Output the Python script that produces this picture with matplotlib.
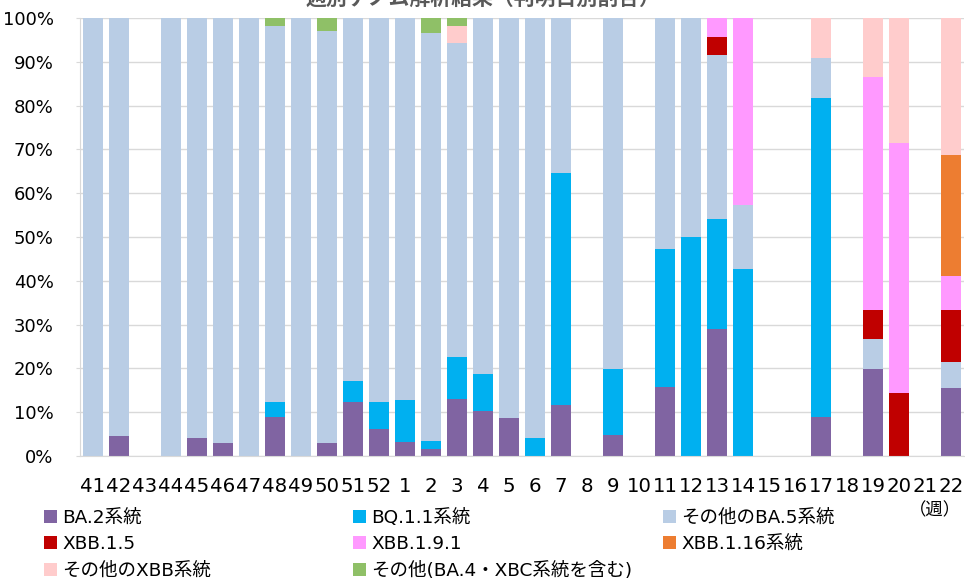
import matplotlib.pyplot as plt
import numpy as np

plt.rcParams['font.family'] = ['DejaVu Sans', 'Noto Sans CJK JP']

# 週
weeks = ['41', '42', '43', '44', '45', '46', '47', '48', '49', '50', '51', '52',
         '1', '2', '3', '4', '5', '6', '7', '8', '9', '10', '11', '12', '13',
         '14', '15', '16', '17', '18', '19', '20', '21', '22']

# 割合(%) 読み取り値, 空欄の週は0
ba2 = [0, 4.5, 0, 0, 4.1, 2.9, 0, 8.8, 0, 2.9, 12.3, 6.1,
       3.1, 1.7, 13.1, 10.3, 8.6, 0, 11.6, 0, 4.9, 0, 15.7, 0, 29.1,
       0, 0, 0, 9.0, 0, 19.9, 0, 0, 15.5]
bq11 = [0, 0, 0, 0, 0, 0, 0, 3.5, 0, 0, 4.8, 6.2,
        9.6, 1.7, 9.4, 8.4, 0, 4.0, 52.9, 0, 15.0, 0, 31.6, 50.0, 24.9,
        42.7, 0, 0, 72.7, 0, 0, 0, 0, 0]
ba5 = [100, 95.5, 0, 100, 95.9, 97.1, 100, 85.9, 100, 94.1, 82.9, 87.7,
       87.3, 93.2, 71.8, 81.3, 91.4, 96.0, 35.5, 0, 80.1, 0, 52.7, 50.0, 37.5,
       14.5, 0, 0, 9.2, 0, 6.7, 0, 0, 6.0]
xbb15 = [0, 0, 0, 0, 0, 0, 0, 0, 0, 0, 0, 0,
         0, 0, 0, 0, 0, 0, 0, 0, 0, 0, 0, 0, 4.2,
         0, 0, 0, 0, 0, 6.7, 14.3, 0, 11.8]
xbb191 = [0, 0, 0, 0, 0, 0, 0, 0, 0, 0, 0, 0,
          0, 0, 0, 0, 0, 0, 0, 0, 0, 0, 0, 0, 4.3,
          42.8, 0, 0, 0, 0, 53.2, 57.1, 0, 7.7]
xbb116 = [0, 0, 0, 0, 0, 0, 0, 0, 0, 0, 0, 0,
          0, 0, 0, 0, 0, 0, 0, 0, 0, 0, 0, 0, 0,
          0, 0, 0, 0, 0, 0, 0, 0, 27.7]
xbb_other = [0, 0, 0, 0, 0, 0, 0, 0, 0, 0, 0, 0,
             0, 0, 3.8, 0, 0, 0, 0, 0, 0, 0, 0, 0, 0,
             0, 0, 0, 9.1, 0, 13.5, 28.6, 0, 31.3]
other = [0, 0, 0, 0, 0, 0, 0, 1.8, 0, 3.0, 0, 0,
         0, 3.4, 1.9, 0, 0, 0, 0, 0, 0, 0, 0, 0, 0,
         0, 0, 0, 0, 0, 0, 0, 0, 0]

series = [
    ('BA.2系統', ba2, '#8064A2'),
    ('BQ.1.1系統', bq11, '#00B0F0'),
    ('その他のBA.5系統', ba5, '#B9CDE5'),
    ('XBB.1.5', xbb15, '#C00000'),
    ('XBB.1.9.1', xbb191, '#FF99FF'),
    ('XBB.1.16系統', xbb116, '#ED7D31'),
    ('その他のXBB系統', xbb_other, '#FFCCCC'),
    ('その他(BA.4・XBC系統を含む)', other, '#8FC067'),
]

fig = plt.figure(figsize=(9.65, 5.85), dpi=100)
ax = fig.add_axes([80 / 965, 1 - 456 / 585, 884 / 965, 438 / 585])

x = np.arange(len(weeks))
bottom = np.zeros(len(weeks))
handles = {}
for name, vals, col in series:
    v = np.array(vals, dtype=float) / 100
    b = ax.bar(x, v, 0.77, bottom=bottom, color=col, zorder=2, label=name)
    handles[name] = b
    bottom += v

ax.set_xlim(-0.5, len(weeks) - 0.5)
ax.set_ylim(0, 1)
ax.set_yticks(np.arange(0, 1.01, 0.1))
ax.set_yticklabels([f'{int(round(t * 100))}%' for t in np.arange(0, 1.01, 0.1)])
ax.set_xticks(x)
ax.set_xticklabels(weeks)
ax.grid(axis='y', color='#D9D9D9', linewidth=1, zorder=0)
for s in ['top', 'right']:
    ax.spines[s].set_visible(False)
ax.spines['left'].set_color('#D9D9D9')
ax.spines['bottom'].set_color('#D9D9D9')
ax.tick_params(axis='y', length=3, color='#D9D9D9', labelsize=13, pad=16)
ax.tick_params(axis='x', length=0, labelsize=14.2, pad=15)

# タイトル(上端で切れている)
fig.text(0.5, 1 - 10 / 585, '週別ゲノム解析結果（判明日別割合）', ha='center', va='bottom',
         fontsize=15, fontweight='bold', color='#595959')
fig.text(935 / 965, 1 - 510 / 585, '（週）', ha='center', va='center', fontsize=12.5)

# 凡例 3列
cols = [['BA.2系統', 'XBB.1.5', 'その他のXBB系統'],
        ['BQ.1.1系統', 'XBB.1.9.1', 'その他(BA.4・XBC系統を含む)'],
        ['その他のBA.5系統', 'XBB.1.16系統']]
lx = [44, 353, 663]
for cx, names in zip(lx, cols):
    fig.legend([handles[n] for n in names], names, loc='upper left',
               bbox_to_anchor=(cx / 965, 1 - 509 / 585), frameon=False,
               fontsize=13.3, handlelength=0.7, handleheight=0.7, handletextpad=0.3,
               labelspacing=0.45, borderpad=0, borderaxespad=0)

fig.savefig('out.png', dpi=100)
